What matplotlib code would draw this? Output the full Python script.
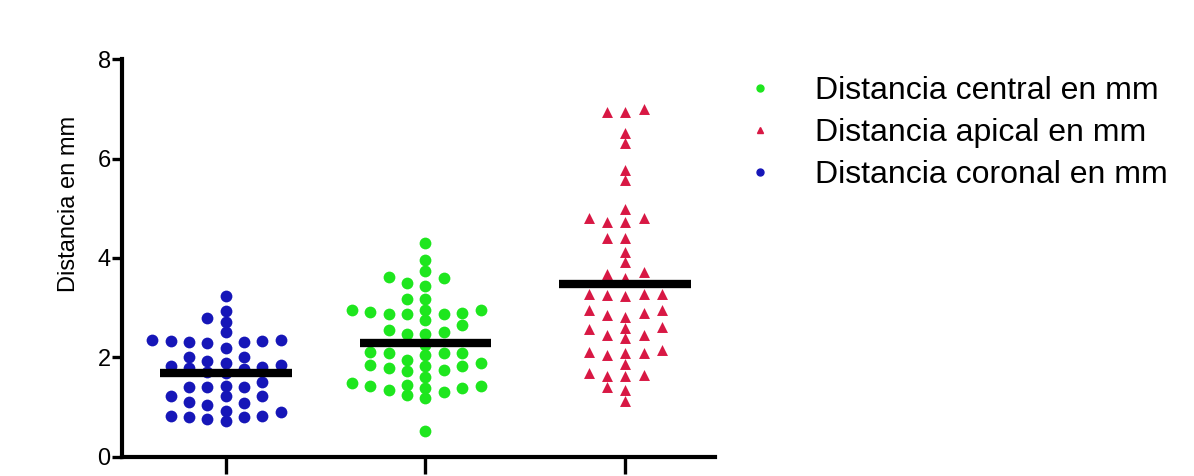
import matplotlib.pyplot as plt
from matplotlib.lines import Line2D
import numpy as np

plt.rcParams['font.family'] = ['Liberation Sans', 'DejaVu Sans']

# values (mm)
coronal = [3.23, 2.93, 2.79, 2.71, 2.51,
           2.36, 2.34, 2.33, 2.32, 2.31, 2.30, 2.35, 2.20,
           2.00, 2.00,
           1.92, 1.88, 1.85, 1.82, 1.80, 1.78, 1.76,
           1.70, 1.68,
           1.50, 1.43, 1.40, 1.40, 1.40,
           1.22, 1.22, 1.22,
           1.10, 1.08, 1.05,
           0.92, 0.90, 0.83, 0.83, 0.80, 0.80, 0.76, 0.72]
central = [4.31, 3.95, 3.73, 3.59, 3.43, 3.50, 3.62, 3.17, 3.17,
           2.95, 2.90, 2.88, 2.92, 2.96, 2.87, 2.88, 2.95,
           2.75, 2.65,
           2.55, 2.48, 2.52, 2.48,
           2.25,
           2.10, 2.05, 2.10, 2.10, 2.12,
           1.95,
           1.85, 1.78, 1.83, 1.82, 1.88, 1.72, 1.74,
           1.60,
           1.42, 1.35, 1.43, 1.45, 1.48, 1.38, 1.38,
           1.30, 1.18, 1.25,
           0.52]
apical = [7.00, 6.93, 6.93, 6.51, 6.31, 5.77, 5.57, 4.99,
          4.80, 4.72, 4.72, 4.80, 4.41, 4.41, 4.13, 3.91, 3.72, 3.68, 3.60,
          3.27, 3.25, 3.24, 3.27, 3.28,
          2.95, 2.90, 2.82, 2.85, 2.95,
          2.62, 2.58, 2.45, 2.40, 2.45, 2.60,
          2.15, 2.10, 2.05, 2.10, 2.12,
          1.87, 1.68, 1.62, 1.62, 1.65,
          1.40, 1.35, 1.12]
means = [1.68, 2.30, 3.48]
labels = ["Distancia coronal en mm", "Distancia central en mm", "Distancia apical en mm"]
colors = ['#1616B8', '#1EE61E', '#D81844']
markers = ['o', 'o', '^']


# simple column swarm: spread points sideways so they don't overlap
def swarm(values, step=0.092, gap=0.19):
    values = np.asarray(values)
    cols = {}
    xs = np.zeros(len(values))
    cand = [0]
    for n in range(1, 12):
        cand += [-n, n]
    for i in np.argsort(values):
        v = values[i]
        for c in cand:
            if all(abs(v - u) >= gap for u in cols.get(c, [])):
                cols.setdefault(c, []).append(v)
                xs[i] = c * step
                break
    return xs


fig = plt.figure(figsize=(11.94, 4.76), dpi=100)
ax = fig.add_axes([0.102, 0.040, 0.497, 0.836])

groups = [coronal, central, apical]
for i, vals in enumerate(groups):
    xs = i + swarm(vals)
    size = 72 if markers[i] == 'o' else 62
    ax.scatter(xs, vals, s=size, c=colors[i], marker=markers[i], linewidths=0, zorder=2)
    ax.plot([i - 0.33, i + 0.33], [means[i], means[i]], color='black', lw=6, zorder=3,
            solid_capstyle='butt')

ax.set_xlim(-0.52, 2.45)
ax.set_ylim(0, 8)
ax.set_yticks([0, 2, 4, 6, 8])
ax.set_xticks([0, 1, 2])
ax.set_xticklabels([])
ax.tick_params(axis='y', labelsize=17, length=7, width=2.4, pad=1)
ax.tick_params(axis='x', length=12, width=2.4)
for s in ['top', 'right']:
    ax.spines[s].set_visible(False)
for s in ['left', 'bottom']:
    ax.spines[s].set_linewidth(3)
ax.set_ylabel('Distancia en mm', fontsize=17)
ax.yaxis.set_label_coords(-0.07, 0.635)

# legend order as in the picture
order = [1, 2, 0]
handles = [Line2D([], [], ls='', marker=markers[k], color=colors[k], markersize=5) for k in order]
fig.legend(handles, [labels[k] for k in order], loc='upper left', bbox_to_anchor=(0.602, 0.90),
           frameon=False, fontsize=23, handlelength=0.8, handletextpad=1.3, labelspacing=0.37)

fig.savefig('out.png', dpi=100)
